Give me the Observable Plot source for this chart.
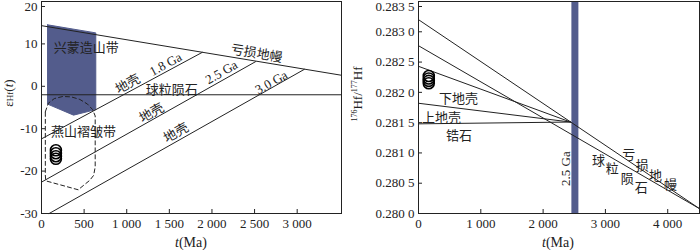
<!DOCTYPE html>
<html><head><meta charset="utf-8">
<script src="https://cdn.jsdelivr.net/npm/d3@7"></script>
<script src="https://cdn.jsdelivr.net/npm/@observablehq/plot@0.6"></script>
<style>
body{margin:0;background:#fff;}
#wrap{display:flex;width:700px;height:250px;}
#wrap svg{display:block;}
</style></head><body><div id="wrap"></div>
<script>
// ---------- data: left panel (εHf(t) vs t) ----------
const leftXTicks = [0, 500, 1000, 1500, 2000, 2500, 3000];
const leftYTopTick = [20];
const leftYTicks = [10, 0, -10, -20, -30];
const mantleL = [[0, 14.3], [3520, 2.6]];
const chondriteL = [[0, -2.0], [3520, -2.0]];
const crust18 = [[0, -12.4], [1886, 8.0]];
const crust25 = [[0, -22.6], [2511, 5.8]];
const crust30 = [[90, -30], [3084, 4.0]];
const xingmeng = [[71, 14.5], [637, 12.6], [637, -5.5], [376, -6.8], [71, -4.2], [71, 14.5]];
const yanshan = [[45, -6.0], [80, -4.0], [150, -2.9], [250, -2.4], [350, -2.5], [450, -3.1], [540, -4.2], [600, -5.5], [630, -7.0],
                 [630, -19.0], [612, -21.0], [565, -22.2], [430, -24.4], [50, -22.3], [45, -21.0], [45, -6.0]];
const samplesL = [[169, -15.1], [169, -15.8], [169, -16.5], [169, -17.1]];
const labelsLStart = [["兴蒙造山带", 145, 9.1], ["燕山褶皱带", 110, -10.8]];
const labelsLFlat = [["球粒陨石", 1527, -0.8]];
const labelMantleL = [["亏损地幔", 2524, 7.7]];
const labels18 = [["地壳", 1013, 0.5], ["1.8 Ga", 1457, 5.2]];
const labels25 = [["地壳", 1293, -6.3], ["2.5 Ga", 2112, 3.3]];
const labels30 = [["地壳", 1580, -11.0], ["3.0 Ga", 2698, 0.9]];

// ---------- data: right panel (176Hf/177Hf vs t) ----------
const rightXTicks = [0, 1000, 2000, 3000, 4000];
const rightYTopTick = [0.2835];
const rightYTicks = [0.2800, 0.2805, 0.2810, 0.2815, 0.2820, 0.2825, 0.2830];
const mantleR = [[0, 0.28320], [4510, 0.28008]];
const chondriteR = [[0, 0.28277], [4510, 0.28008]];
const lowerCrust = [[0, 0.28243], [2440, 0.28151]];
const upperCrust = [[0, 0.28182], [2440, 0.28151]];
const zircon = [[0, 0.28148], [2440, 0.28151]];
const bar25 = [2510];
const samplesR = [[165, 0.28227], [165, 0.28223], [165, 0.28219], [165, 0.28215]];
const labelsRFlat = [["下地壳", 642, 0.281894], ["上地壳", 369, 0.281581], ["锆石", 650, 0.281284],
  ["亏", 3376, 0.280964], ["损", 3591, 0.280791], ["地", 3804, 0.280626], ["幔", 4045, 0.280466],
  ["球", 2889, 0.280871], ["粒", 3109, 0.280734], ["陨", 3350, 0.280569], ["石", 3575, 0.280431]];
const labelBar = [["2.5 Ga", 2360, 0.28074]];

const BLUE = "#535c8c";
const INK = "#222";
const FONT = '"Liberation Serif","Noto Sans CJK SC",serif';
const fmtK = d3.formatLocale({decimal: ".", thousands: " ", grouping: [3], currency: ["", ""]}).format(",");
const fmtR = d => { const s = d.toFixed(4); return s.slice(0, 5) + " " + s.slice(5); };
const X = d => d[0], Y = d => d[1], T = d => d[0];
const line = (data, o = {}) => Plot.line(data, {x: X, y: Y, stroke: INK, strokeWidth: 1, ...o});
const txt = (data, o = {}) => Plot.text(data, {x: d => d[1], y: d => d[2], text: T, fill: INK, fontSize: 13, ...o});
const yAxis = (ticks, fmt, o = {}) => Plot.axisY(ticks, {tickFormat: fmt, tickSize: -4, tickPadding: 8, label: null, fill: INK, stroke: INK, ...o});

const left = Plot.plot({
  width: 350, height: 250, marginLeft: 41, marginRight: 9, marginTop: 1, marginBottom: 37,
  style: {fontFamily: FONT, fontSize: "13px", color: INK, background: "white", overflow: "visible"},
  x: {domain: [0, 3520]},
  y: {domain: [-30, 20]},
  marks: [
    line(xingmeng, {fill: BLUE, stroke: BLUE}),
    line(mantleL), line(chondriteL), line(crust18), line(crust25), line(crust30),
    line(yanshan, {strokeDasharray: "4,3"}),
    Plot.dot(samplesL, {x: X, y: Y, r: 5.5, stroke: "black", strokeWidth: 1.6, fill: "none"}),
    txt(labelsLStart, {textAnchor: "start"}),
    txt(labelsLFlat),
    txt(labelMantleL, {rotate: 9.5}),
    txt(labels18, {rotate: -28.5}),
    txt(labels25, {rotate: -29.5}),
    txt(labels30, {rotate: -29.3}),
    Plot.frame({stroke: INK}),
    Plot.axisX(leftXTicks, {tickFormat: fmtK, tickSize: -4, tickPadding: 9, label: null, fill: INK, stroke: INK}),
    yAxis(leftYTopTick, d => String(d), {dy: 5}),
    yAxis(leftYTicks, d => String(d))
  ]
});

const right = Plot.plot({
  width: 350, height: 250, marginLeft: 68, marginRight: 1, marginTop: 1, marginBottom: 37,
  style: {fontFamily: FONT, fontSize: "13px", color: INK, background: "white", overflow: "visible"},
  x: {domain: [0, 4510]},
  y: {domain: [0.2800, 0.2835]},
  marks: [
    Plot.ruleX(bar25, {x: d => d, stroke: BLUE, strokeWidth: 7}),
    line(mantleR), line(chondriteR), line(lowerCrust), line(upperCrust), line(zircon),
    Plot.dot(samplesR, {x: X, y: Y, r: 5.5, stroke: "black", strokeWidth: 1.6, fill: "none"}),
    txt(labelsRFlat),
    txt(labelBar, {rotate: -90}),
    Plot.frame({stroke: INK}),
    Plot.axisX(rightXTicks, {tickFormat: fmtK, tickSize: -4, tickPadding: 9, label: null, fill: INK, stroke: INK}),
    yAxis(rightYTopTick, fmtR, {dy: 5}),
    yAxis(rightYTicks, fmtR)
  ]
});

const wrap = document.getElementById("wrap");
wrap.appendChild(left);
wrap.appendChild(right);

// axis titles
function xTitle(svg, cx) {
  const t = d3.select(svg).append("text").attr("x", cx).attr("y", 247).attr("text-anchor", "middle")
    .attr("font-family", FONT).attr("font-size", 14).attr("fill", INK);
  t.append("tspan").attr("font-style", "italic").text("t");
  t.append("tspan").text("(Ma)");
}
xTitle(left, 191);
xTitle(right, 208);

{
  const t = d3.select(left).append("text").attr("transform", "translate(13,93) rotate(-90)").attr("text-anchor", "middle")
    .attr("font-family", FONT).attr("font-size", 13).attr("fill", INK);
  t.append("tspan").text("ε");
  t.append("tspan").attr("font-size", 9).text("Hf");
  t.append("tspan").text("(");
  t.append("tspan").attr("font-style", "italic").text("t");
  t.append("tspan").text(")");
}
{
  const t = d3.select(right).append("text").attr("transform", "translate(12,94) rotate(-90)").attr("text-anchor", "middle")
    .attr("font-family", FONT).attr("font-size", 13).attr("fill", INK);
  t.append("tspan").attr("font-size", 8).attr("dy", -5).text("176");
  t.append("tspan").attr("dy", 5).text("Hf/");
  t.append("tspan").attr("font-size", 8).attr("dy", -5).text("177");
  t.append("tspan").attr("dy", 5).text("Hf");
}
</script></body></html>
